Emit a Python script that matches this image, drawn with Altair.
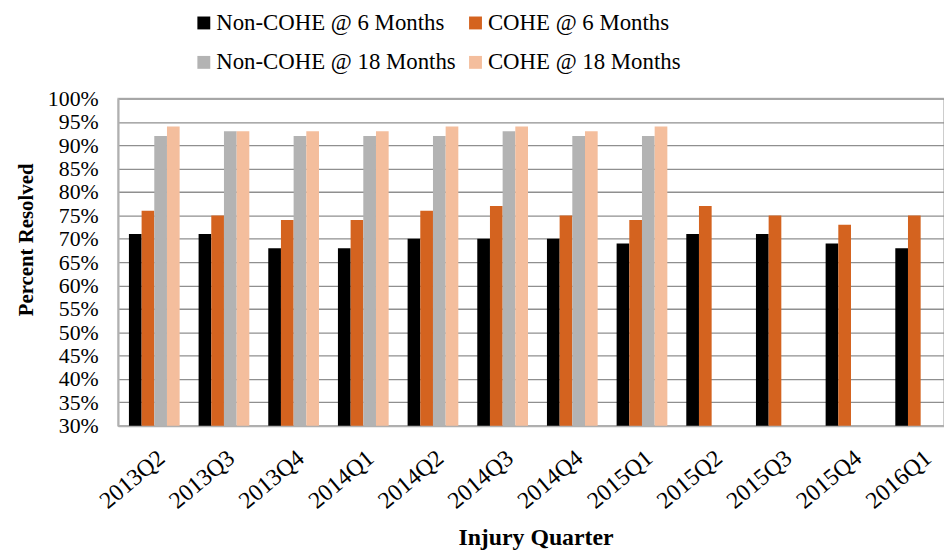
import altair as alt
import pandas as pd

quarters = ["2013Q2", "2013Q3", "2013Q4", "2014Q1", "2014Q2", "2014Q3",
            "2014Q4", "2015Q1", "2015Q2", "2015Q3", "2015Q4", "2016Q1"]
series = ["Non-COHE @ 6 Months", "COHE @ 6 Months",
          "Non-COHE @ 18 Months", "COHE @ 18 Months"]
non_cohe_6 = [71, 71, 68, 68, 70, 70, 70, 69, 71, 71, 69, 68]
cohe_6 = [76, 75, 74, 74, 76, 77, 75, 74, 77, 75, 73, 75]
non_cohe_18 = [92, 93, 92, 92, 92, 93, 92, 92, None, None, None, None]
cohe_18 = [94, 93, 93, 93, 94, 94, 93, 94, None, None, None, None]
colors = ["#000000", "#D4631F", "#B3B3B3", "#F4BE9D"]
y_ticks = [0.30, 0.35, 0.40, 0.45, 0.50, 0.55, 0.60, 0.65, 0.70, 0.75,
           0.80, 0.85, 0.90, 0.95, 1.00]

rows = []
for name, vals in zip(series, [non_cohe_6, cohe_6, non_cohe_18, cohe_18]):
    for q, v in zip(quarters, vals):
        if v is not None:
            rows.append({"quarter": q, "series": name, "value": v / 100.0})
df = pd.DataFrame(rows)

FONT = "Liberation Serif"

chart = alt.Chart(df).mark_bar().encode(
    x=alt.X("quarter:N", sort=quarters,
            scale=alt.Scale(range=[0, 846], paddingInner=0.272, paddingOuter=0.156),
            axis=alt.Axis(title="Injury Quarter", labelAngle=-40, ticks=False,
                          labelFont=FONT, labelFontSize=24, labelColor="black",
                          labelPadding=20, domainColor="#b0b0b0", domainWidth=2,
                          titleFont=FONT, titleFontSize=24, titleFontWeight="bold",
                          titleColor="black", titleY=120, titleX=421,
                          titleBaseline="alphabetic")),
    xOffset=alt.XOffset("series:N", sort=series,
                        scale=alt.Scale(domain=series, paddingInner=0, paddingOuter=0)),
    y=alt.Y("value:Q",
            scale=alt.Scale(domain=[0.30, 1.00], nice=False, zero=False),
            axis=alt.Axis(values=y_ticks, format=".0%", ticks=False,
                          labelFont=FONT, labelFontSize=22, labelColor="black",
                          labelPadding=20, grid=True, gridColor="#8f8f8f",
                          gridWidth=1.3, domainColor="#b0b0b0", domainWidth=2,
                          title="Percent Resolved", titleFont=FONT,
                          titleFontSize=21, titleFontWeight="bold",
                          titleColor="black", titleAngle=270, titleX=-92,
                          titleY=142, titleAlign="center",
                          titleBaseline="middle")),
    y2=alt.datum(0.30),
    color=alt.Color("series:N", sort=series,
                    scale=alt.Scale(domain=series, range=colors),
                    legend=alt.Legend(title=None, orient="none", legendX=75,
                                      legendY=-88, direction="horizontal",
                                      columns=2, columnPadding=8, rowPadding=16,
                                      symbolType="square", symbolSize=169,
                                      symbolStrokeWidth=0, labelFont=FONT,
                                      labelFontSize=23, labelColor="black",
                                      labelOffset=1, labelLimit=0, padding=0)),
).properties(
    width=833, height=330,
    autosize=alt.AutoSizeParams(type="none"),
    padding={"left": 111, "top": 89, "right": 0, "bottom": 128},
).configure_view(stroke="#bdbdbd", strokeWidth=1.5)

chart.save("out.html", embed_options={"renderer": "svg", "actions": False})
